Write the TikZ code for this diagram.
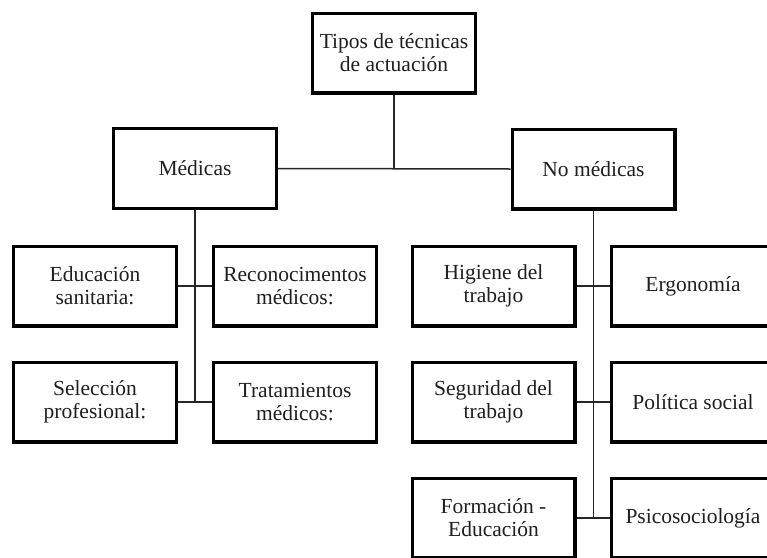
\documentclass[tikz,border=0pt]{standalone}
\usepackage{fontspec}
\setmainfont{Liberation Serif}
\begin{document}
\begin{tikzpicture}[x=1pt,y=-1pt,
  box/.style={draw=black,line width=3.3pt,minimum width=162.7pt,minimum height=79.7pt,
    inner sep=2pt,align=center,text=black!88,font=\fontsize{21.5}{23}\selectfont},
  conn/.style={draw=black!85,line width=1.5pt}]
\useasboundingbox (0,0) rectangle (767,557);
\clip (0,0) rectangle (767,557);
\fill[white] (0,0) rectangle (767,557);
\node[box] (top) at (394,53) {Tipos de técnicas\\de actuación};
\node[box] (med) at (195,168.5) {Médicas};
\node[box] (nomed) at (593.5,169) {No médicas};
\node[box] (edu) at (95,286) {Educación\\sanitaria:};
\node[box] (rec) at (295,286) {Reconocimentos\\médicos:};
\node[box] (sel) at (95,402) {Selección\\profesional:};
\node[box] (trat) at (295,402) {Tratamientos\\médicos:};
\node[box] (hig) at (493.5,286) {Higiene del\\trabajo};
\node[box] (erg) at (693,286) {Ergonomía};
\node[box] (seg) at (493.5,402) {Seguridad del\\trabajo};
\node[box] (pol) at (693,402) {Política social};
\node[box] (for) at (493.5,518) {Formación -\\Educación};
\node[box] (psi) at (693,518) {Psicosociología};
\draw[conn] (top.south) -- (top.south |- med.east);
\draw[conn] (med.east) -- (nomed.west);
\draw[conn] (med.south) -- (med.south |- sel.east);
\draw[conn] (edu.east) -- (rec.west);
\draw[conn] (sel.east) -- (trat.west);
\draw[conn] (nomed.south) -- (nomed.south |- for.east);
\draw[conn] (hig.east) -- (erg.west);
\draw[conn] (seg.east) -- (pol.west);
\draw[conn] (for.east) -- (psi.west);
\end{tikzpicture}
\end{document}
